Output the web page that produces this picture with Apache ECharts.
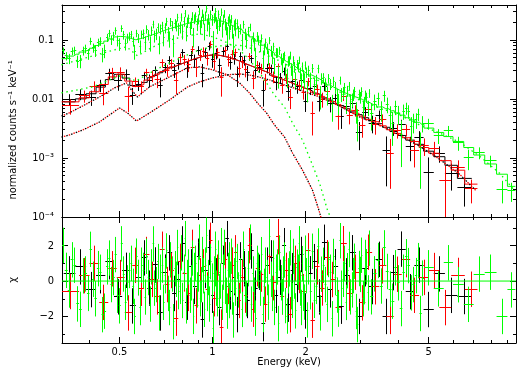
<!DOCTYPE html>
<html>
<head>
<meta charset="utf-8">
<script src="https://cdn.jsdelivr.net/npm/echarts@6.0.0/dist/echarts.min.js"></script>
<style>
html,body{margin:0;padding:0;background:#ffffff;}
#chart{width:525px;height:372px;}
</style>
</head>
<body>
<div id="chart"></div>
<script>
// ================= DATA =================
const xMajorTicks = [0.5, 1, 2, 5];
const xMinorTicks = [0.4, 0.6, 0.7, 0.8, 0.9, 3, 4, 6, 7, 8, 9];
const yMajorTicks = [1e-4, 1e-3, 0.01, 0.1];
const yMajorLabels = ['10⁻⁴', '10⁻³', '0.01', '0.1'];
const yMinorTicks = [2e-4,3e-4,4e-4,5e-4,6e-4,7e-4,8e-4,9e-4,2e-3,3e-3,4e-3,5e-3,6e-3,7e-3,8e-3,9e-3,0.02,0.03,0.04,0.05,0.06,0.07,0.08,0.09,0.2,0.3];
const rMajorTicks = [-2, 0, 2];
const rMinorTicks = [-3, -1, 1, 3];

// black dataset: bin edges (keV), model, data, 1-sigma error (normalized counts s^-1 keV^-1)
const blackEdges = [0.33,0.36,0.39,0.42,0.45,0.48,0.51,0.54,0.565,0.59,0.615,0.64,0.665,0.69,0.715,0.74,0.765,0.79,0.815,0.84,0.865,0.89,0.915,0.94,0.965,0.99,1.015,1.04,1.07,1.10,1.13,1.16,1.19,1.22,1.25,1.28,1.32,1.36,1.40,1.44,1.48,1.53,1.58,1.63,1.68,1.73,1.79,1.85,1.91,1.97,2.04,2.11,2.18,2.26,2.35,2.45,2.55,2.66,2.78,2.91,3.05,3.20,3.37,3.55,3.75,3.97,4.22,4.50,4.82,5.20,5.65,6.20,6.90];
const blackModel = [.0089,.0100,.0122,.0158,.0212,.0260,.0225,.0168,.0165,.0190,.0228,.0250,.0277,.0305,.0336,.0362,.0388,.0412,.0440,.0465,.0487,.0510,.0528,.0540,.0550,.0556,.0550,.0538,.0520,.0505,.0482,.0460,.0440,.0415,.0392,.0370,.0348,.0328,.0310,.0292,.0275,.0252,.0232,.0216,.0203,.0190,.0176,.0166,.0155,.0146,.0136,.0125,.0116,.0104,.0095,.0084,.0077,.0068,.0060,.0054,.0048,.0043,.0038,.0033,.0028,.0024,.0020,.0017,.0013,.00105,.00075,.00045];
const blackData = [.0098,.0120,.0107,.0170,.0270,.0202,.0259,.0116,.0172,.0245,.0208,.0300,.0167,.0339,.0454,.0306,.0397,.0603,.0324,.0547,.0455,.0667,.0273,.0611,.0780,.0458,.0586,.0361,.0634,.0771,.0418,.0480,.0256,.0524,.0452,.0281,.0479,.0299,.0344,.0138,.0330,.0324,.0191,.0226,.0293,.0135,.0199,.0159,.0206,.0092,.0150,.0159,.0090,.0161,.0083,.0101,.0050,.0073,.0084,.0027,.0058,.0039,.0052,.00132,.0032,.0037,.00158,.00224,.00056,.0012,.00054,.00031];
const blackErr = [.0022,.0025,.0031,.0040,.0053,.0065,.0056,.0037,.0036,.0042,.0050,.0055,.0061,.0067,.0074,.0080,.0085,.0091,.0097,.0102,.0107,.0112,.0116,.0119,.0121,.0122,.0121,.0118,.0114,.0111,.0106,.0101,.0097,.0091,.0086,.0081,.0077,.0072,.0068,.0064,.0061,.0055,.0051,.0048,.0045,.0042,.0039,.0037,.0034,.0032,.0034,.0031,.0029,.0026,.0024,.0021,.0019,.0017,.0015,.00135,.00144,.00129,.00114,.00099,.00084,.00072,.0007,.0006,.00046,.00037,.00026,.00016];

// red dataset
const redEdges = [0.325,0.37,0.40,0.43,0.46,0.49,0.52,0.55,0.575,0.60,0.625,0.65,0.675,0.70,0.725,0.75,0.775,0.80,0.825,0.85,0.875,0.90,0.925,0.95,0.975,1.00,1.025,1.055,1.085,1.115,1.145,1.175,1.205,1.235,1.265,1.30,1.34,1.38,1.42,1.46,1.505,1.555,1.605,1.655,1.705,1.76,1.82,1.88,1.94,2.005,2.075,2.145,2.22,2.305,2.40,2.50,2.605,2.72,2.845,2.98,3.125,3.285,3.46,3.65,3.86,4.095,4.36,4.66,5.01,5.42,5.92,6.55,7.2];
const redModel = [.0089,.0104,.0132,.0175,.0235,.0262,.0200,.0162,.0175,.0208,.0238,.0262,.0290,.0320,.0348,.0374,.0398,.0425,.0452,.0476,.0498,.0518,.0534,.0546,.0554,.0554,.0545,.0530,.0512,.0494,.0471,.0450,.0428,.0404,.0382,.0358,.0338,.0319,.0300,.0284,.0263,.0242,.0224,.0209,.0196,.0183,.0171,.0160,.0150,.0141,.0130,.0120,.0110,.0100,.0090,.0080,.0072,.0064,.0057,.0051,.0045,.0041,.0035,.0030,.0026,.0022,.0019,.0015,.0012,.0009,.00062,.00036];
const redData = [.0076,.0112,.0165,.0122,.0276,.0275,.0110,.0194,.0159,.0277,.0243,.0210,.0405,.0306,.0394,.0202,.0495,.0463,.0383,.0676,.0344,.0552,.0628,.0486,.0835,.0432,.0605,.0226,.0648,.0461,.0565,.0608,.0325,.0422,.0315,.0516,.0220,.0368,.0326,.0203,.0344,.0237,.0347,.0168,.0222,.0107,.0209,.0171,.0130,.0194,.0057,.0144,.0099,.0133,.0092,.0050,.0110,.0053,.0064,.0035,.0067,.0037,.0044,.0012,.0029,.0030,.00136,.00161,.00145,.00042,.00069,.00030];
const redErr = [.0022,.0026,.0033,.0044,.0059,.0066,.0050,.0036,.0039,.0046,.0052,.0058,.0064,.0070,.0077,.0082,.0088,.0094,.0099,.0105,.0110,.0114,.0117,.0120,.0122,.0122,.0120,.0117,.0113,.0109,.0104,.0099,.0094,.0089,.0084,.0079,.0074,.0070,.0066,.0062,.0058,.0053,.0049,.0046,.0043,.0040,.0038,.0035,.0033,.0031,.0033,.0030,.0028,.0025,.0023,.0020,.0018,.0016,.0014,.0013,.00135,.00123,.00105,.0009,.00078,.00066,.00067,.00053,.00042,.00032,.00022,.00013];

// green dataset
const greenEdges = [0.325,0.3325,0.34,0.3475,0.355,0.3625,0.37,0.3775,0.385,0.3925,0.40,0.4075,0.415,0.4225,0.43,0.4375,0.445,0.4525,0.46,0.4675,0.475,0.4825,0.49,0.4975,0.505,0.5125,0.52,0.5275,0.535,0.5425,0.55,0.5575,0.565,0.5725,0.58,0.5875,0.595,
 0.6025,0.61,0.6175,0.625,0.6325,0.64,0.6475,0.655,0.6625,0.67,0.6775,0.685,0.6925,0.70,0.7075,0.715,0.7225,0.73,0.7375,0.745,0.7525,0.76,0.7675,0.775,0.7825,0.79,0.7975,0.805,0.8125,0.82,0.8275,0.835,0.8425,0.85,0.8575,0.865,0.8725,0.88,0.8875,0.895,0.9025,0.91,0.9175,0.925,0.9325,0.94,0.9475,0.955,0.9625,0.97,0.9775,0.985,0.9925,1.00,1.0075,1.015,1.0225,1.03,1.0375,1.045,1.0525,1.06,1.0675,1.075,1.0825,1.09,1.0975,1.105,1.1125,1.12,1.1275,1.135,1.1425,1.15,1.1575,1.165,1.1725,1.18,1.1875,1.195,
 1.21,1.225,1.24,1.255,1.27,1.285,1.30,1.315,1.33,1.345,1.36,1.375,1.39,1.405,1.42,1.435,1.45,1.465,1.48,1.495,1.51,1.525,1.54,1.555,1.57,1.585,1.60,1.615,1.63,1.645,1.66,1.675,1.69,1.705,1.72,1.735,1.75,1.765,1.78,1.795,1.81,1.825,1.84,1.855,1.87,1.885,1.90,1.915,1.93,1.945,1.96,1.975,1.99,2.005,2.02,2.035,
 2.065,2.095,2.125,2.155,2.185,2.215,2.245,2.275,2.305,2.335,2.365,2.395,2.425,2.455,2.485,2.515,2.545,2.575,2.605,2.635,2.665,2.695,2.725,2.755,2.785,2.815,2.845,2.875,2.905,2.935,2.965,2.995,3.025,3.055,3.085,3.115,3.145,3.175,3.205,3.235,
 3.315,3.395,3.475,3.555,3.635,3.715,3.795,3.875,3.955,4.035,4.115,4.195,4.275,4.355,4.435,4.515,4.595,4.675,4.755,4.835,
 5.2,5.6,6.0,6.5,7.0,7.6,8.3,9.0,9.55];
const greenModel = [.048,.048,.053,.053,.057,.057,.062,.062,.066,.066,.072,.072,.080,.080,.087,.087,.095,.095,.104,.104,.112,.112,.114,.114,.113,.113,.109,.109,.104,.104,.100,.100,.103,.103,.107,.107,
 .112,.112,.117,.117,.122,.122,.127,.127,.132,.132,.138,.138,.144,.144,.150,.150,.155,.155,.160,.160,.165,.165,.171,.171,.176,.176,.181,.181,.186,.186,.190,.190,.194,.194,.198,.198,.201,.201,.205,.205,.208,.208,.211,.211,.213,.213,.215,.215,.216,.216,.217,.217,.218,.218,.218,.218,.217,.217,.215,.215,.212,.212,.208,.208,.203,.203,.198,.198,.192,.192,.186,.186,.180,.180,.174,.174,.168,.168,.162,.162,
 .154,.154,.144,.144,.132,.132,.122,.122,.112,.112,.103,.103,.095,.095,.088,.088,.081,.081,.075,.075,.069,.069,.064,.064,.060,.060,.055,.055,.052,.052,.049,.049,.046,.046,.043,.043,.041,.041,.039,.039,.037,.037,.035,.035,.033,.033,.0315,.0315,.030,.030,.029,.029,.0278,.0278,.0266,.0266,
 .0254,.0254,.0236,.0236,.0219,.0219,.0203,.0203,.0187,.0187,.0172,.0172,.0160,.0160,.0150,.0150,.0141,.0141,.0133,.0133,.0126,.0126,.0120,.0120,.0115,.0115,.0110,.0110,.0106,.0106,.0102,.0102,.0098,.0098,.0093,.0093,.0089,.0089,.0086,.0086,
 .0080,.0080,.0073,.0073,.0068,.0068,.0063,.0063,.0058,.0058,.0053,.0053,.0048,.0048,.0044,.0044,.0040,.0040,.0037,.0037,
 .0032,.0027,.0023,.0019,.0015,.00112,.00079,.00053,.00033];
const greenData = [.0653,.0532,.0482,.0644,.0662,.0437,.0441,.0653,.0708,.0577,.0953,.0733,.0656,.0901,.0948,.0572,.0659,.1087,.1283,.1003,.1160,.1422,.0976,.0853,.1557,.1211,.0855,.1070,.1152,.1227,.0946,.0640,.1290,.1067,.0781,.1243,
 .1261,.0908,.1514,.1219,.0887,.1425,.1830,.1163,.1265,.1625,.0858,.1525,.1712,.1077,.1595,.2036,.1322,.1062,.2003,.1734,.0853,.1893,.1746,.2392,.1538,.1649,.2418,.1392,.2055,.2797,.1341,.1980,.2266,.1614,.1938,.2521,.1166,.2263,.2481,.1835,.2255,.3041,.1667,.2021,.2801,.2264,.1428,.2556,.3339,.1842,.2261,.1578,.2684,.2180,.0944,.2363,.2489,.2990,.1969,.1699,.2699,.1853,.2080,.2954,.1518,.2243,.2770,.1855,.1597,.1235,.2094,.2329,.1384,.1838,.2252,.1411,.0904,.1786,.1926,.1484,
 .1896,.1378,.1531,.0956,.1819,.1265,.0964,.1399,.1637,.0814,.1117,.0857,.0531,.1150,.0991,.0806,.1065,.0487,.0703,.0892,.0719,.0516,.0976,.0653,.0512,.0764,.0377,.0608,.0607,.0258,.0655,.0480,.0373,.0499,.0538,.0304,.0238,.0436,.0447,.0546,.0323,.0285,.0453,.0350,.0212,.0385,.0348,.0454,.0275,.0206,.0351,.0247,.0208,.0371,.0283,.0143,
 .0303,.0217,.0332,.0174,.0203,.0324,.0115,.0222,.0227,.0178,.0118,.0222,.0179,.0079,.0200,.0157,.0114,.0087,.0206,.0120,.0129,.0156,.0085,.0137,.0165,.0090,.0097,.0118,.0134,.0063,.0043,.0119,.0107,.0133,.0071,.0086,.0117,.0106,.0072,.0125,
 .0056,.0091,.0102,.0066,.0113,.0081,.0053,.0038,.0073,.0056,.0025,.0062,.0070,.0062,.0034,.0041,.0044,.0055,.0015,.0039,
 .0038,.0024,.0029,.0018,.0010,.00123,.00089,.00029,.00028];
const greenErr = [.0086,.0086,.0095,.0095,.0103,.0103,.0112,.0112,.0119,.0119,.0130,.0130,.0144,.0144,.0157,.0157,.0171,.0171,.0187,.0187,.0202,.0202,.0205,.0205,.0203,.0203,.0196,.0196,.0187,.0187,.0180,.0180,.0185,.0185,.0193,.0193,
 .0235,.0235,.0246,.0246,.0256,.0256,.0267,.0267,.0277,.0277,.0290,.0290,.0302,.0302,.0315,.0315,.0326,.0326,.0336,.0336,.0347,.0347,.0360,.0360,.0370,.0370,.0381,.0381,.0391,.0391,.0399,.0399,.0407,.0407,.0416,.0416,.0423,.0423,.0431,.0431,.0437,.0437,.0444,.0444,.0448,.0448,.0452,.0452,.0454,.0454,.0456,.0456,.0458,.0458,.0458,.0458,.0456,.0456,.0452,.0452,.0445,.0445,.0437,.0437,.0427,.0427,.0416,.0416,.0403,.0403,.0391,.0391,.0378,.0378,.0365,.0365,.0353,.0353,.0340,.0340,
 .0323,.0323,.0302,.0302,.0277,.0277,.0256,.0256,.0235,.0235,.0217,.0217,.0200,.0200,.0185,.0185,.0171,.0171,.0158,.0158,.0146,.0146,.0134,.0134,.0126,.0126,.0116,.0116,.0109,.0109,.0104,.0104,.0097,.0097,.0091,.0091,.0087,.0087,.0083,.0083,.0078,.0078,.0074,.0074,.0070,.0070,.0066,.0066,.0063,.0063,.0062,.0062,.0059,.0059,.0056,.0056,
 .0061,.0061,.0057,.0057,.0053,.0053,.0049,.0049,.0045,.0045,.0041,.0041,.0038,.0038,.0036,.0036,.0034,.0034,.0032,.0032,.0030,.0030,.0029,.0029,.0028,.0028,.0026,.0026,.0025,.0025,.0024,.0024,.0024,.0024,.0022,.0022,.0021,.0021,.0021,.0021,
 .0027,.0027,.0025,.0025,.0024,.0024,.0022,.0022,.0020,.0020,.0018,.0018,.0016,.0016,.0015,.0015,.0013,.0013,.0012,.0012,
 .0008,.00068,.00058,.00048,.00038,.00028,.0002,.00012,.0001];

// additive model components (dotted curves): energy (keV) and value
const mosSoftE = [0.3245,0.3437,0.3853,0.4308,0.4818,0.5269,0.5469,0.572,0.6025,0.6253,0.6738,0.7258,0.8301,0.9077,1.0,1.1183,1.2227,1.3175,1.3981,1.4954,1.5874,1.71,1.8151,1.9556,2.107,2.2201,2.26];
const mosSoftV = [.00513,.00577,.00788,.01076,.01531,.01862,.01416,.01076,.01362,.01592,.01936,.02355,.0335,.03483,.03097,.02547,.01862,.01259,.00851,.00577,.00361,.00226,.00121,.00062,.000284,.00012,.000085];
const mosHardE = [0.3245,0.3437,0.3796,0.4308,0.5,0.5309,0.5676,0.6253,0.7258,0.8301,0.9077,1.0,1.1099,1.2227,1.3676,1.5293,1.71,1.9124,2.2201,2.5763,2.9908,3.4716,4.0297,4.6774,5.4292,6.302,7.1];
const mosHardV = [.00226,.00244,.00296,.00406,.00701,.00577,.00422,.00577,.00957,.01592,.01936,.02263,.02547,.02649,.02449,.02094,.01722,.01416,.01076,.00757,.00493,.00361,.00244,.00158,.00095,.00053,.000284];
const greenSoftE = [0.3245,0.3999,0.4818,0.5269,0.572,0.6253,0.6738,0.7535,0.8301,0.9077,1.0,1.1183,1.2227,1.3175,1.3981,1.4954,1.5874,1.71,1.8151,1.9556,2.107,2.2201,2.3556,2.4093];
const greenSoftV = [.0377,.0514,.0676,.0760,.0535,.0703,.0855,.1040,.1169,.1264,.1124,.0889,.0676,.0457,.0310,.0186,.0116,.00728,.0039,.0020,.000755,.000374,.00013,.0000988];
const greenHardE = [0.3245,0.4089,0.4642,0.5,0.5388,0.5676,0.6025,0.6738,0.7258,0.8301,0.9077,1.0,1.1352,1.2693,1.4191,1.6473,1.9124,2.2201,2.5763,2.9908,3.4716,4.0297,4.6774,5.4292,6.302,7.313,8.4883,9.4214];
const greenHardV = [.0126,.0159,.0209,.0245,.0218,.0201,.0245,.0335,.0407,.0556,.0676,.0760,.0822,.0791,.0625,.0440,.0287,.0201,.0131,.00957,.00700,.00533,.00361,.00264,.00185,.00107,.000552,.000295];

// ================= CHART =================
const L = Math.log10;
const XMIN = -0.487, XMAX = 0.982;      // log10(keV)
const YMIN = -4, YMAX = -0.411;          // log10(counts)
const RMIN = -3.5, RMAX = 3.62;          // chi
const BLACK = '#000000', RED = '#ff0000', GREEN = '#00ff00';
const FONT = "'Liberation Sans Narrow','DejaVu Sans Condensed','Liberation Sans',sans-serif";

function crosses(edges, vals, errs) {
  return vals.map((v, i) => {
    const lo = edges[i], hi = edges[i + 1], c = (lo + hi) / 2, e = errs[i];
    return [L(lo), L(hi), L(c), L(v), v - e > 0 ? L(v - e) : YMIN - 1, L(v + e)];
  });
}
function resid(edges, vals, errs, model) {
  return vals.map((v, i) => {
    const lo = edges[i], hi = edges[i + 1], c = (lo + hi) / 2;
    const chi = (v - model[i]) / errs[i];
    return [L(lo), L(hi), L(c), chi, chi - 1, chi + 1];
  });
}
function steps(edges, model) {
  const pts = [];
  model.forEach((m, i) => { pts.push([L(edges[i]), L(m)], [L(edges[i + 1]), L(m)]); });
  return pts;
}
function curve(E, V) { return E.map((e, i) => [L(e), L(V[i])]); }

function crossRender(color) {
  return function (params, api) {
    const a = api.coord([api.value(0), api.value(3)]);
    const b = api.coord([api.value(1), api.value(3)]);
    const p = api.coord([api.value(2), api.value(4)]);
    const q = api.coord([api.value(2), api.value(5)]);
    const y = Math.round(a[1] - 0.5) + 0.5;
    const x = Math.round(p[0] - 0.5) + 0.5;
    const st = { stroke: color, lineWidth: 1 };
    return { type: 'group', children: [
      { type: 'line', shape: { x1: a[0], y1: y, x2: b[0], y2: y }, style: st },
      { type: 'line', shape: { x1: x, y1: p[1], x2: x, y2: q[1] }, style: st }
    ]};
  };
}

function axis(grid, pos, min, max, ticks, len, line, label) {
  const a = {
    type: 'value', gridIndex: grid, position: pos, min: min, max: max,
    axisLine: { show: line, onZero: false, lineStyle: { color: BLACK, width: 1 } },
    axisTick: { show: true, inside: true, length: len, customValues: ticks, lineStyle: { color: BLACK, width: 1 } },
    axisLabel: { show: false },
    splitLine: { show: false },
    axisPointer: { show: false }
  };
  if (label) a.axisLabel = Object.assign({ show: true, color: BLACK, fontFamily: FONT, fontSize: 11, customValues: ticks }, label);
  return a;
}

const xMaj = xMajorTicks.map(L), xMin = xMinorTicks.map(L);
const yMaj = yMajorTicks.map(L), yMin = yMinorTicks.map(L);

const xAxes = [
  axis(0, 'bottom', XMIN, XMAX, xMaj, 6, true),
  axis(0, 'bottom', XMIN, XMAX, xMin, 3, false),
  axis(0, 'top', XMIN, XMAX, xMaj, 6, true),
  axis(0, 'top', XMIN, XMAX, xMin, 3, false),
  axis(1, 'bottom', XMIN, XMAX, xMaj, 6, true, {
    margin: 4,
    formatter: v => String(Number(Math.pow(10, v).toPrecision(2)))
  }),
  axis(1, 'bottom', XMIN, XMAX, xMin, 3, false),
  axis(1, 'top', XMIN, XMAX, xMaj, 6, true),
  axis(1, 'top', XMIN, XMAX, xMin, 3, false)
];
const yAxes = [
  axis(0, 'left', YMIN, YMAX, yMaj, 6, true, {
    margin: 8,
    formatter: v => yMajorLabels[yMaj.findIndex(t => Math.abs(t - v) < 1e-6)]
  }),
  axis(0, 'left', YMIN, YMAX, yMin, 3, false),
  axis(0, 'right', YMIN, YMAX, yMaj, 6, true),
  axis(0, 'right', YMIN, YMAX, yMin, 3, false),
  axis(1, 'left', RMIN, RMAX, rMajorTicks, 6, true, {
    margin: 8,
    formatter: v => (v < 0 ? '−' + Math.abs(Math.round(v)) : String(Math.round(v)))
  }),
  axis(1, 'left', RMIN, RMAX, rMinorTicks, 3, false),
  axis(1, 'right', RMIN, RMAX, rMajorTicks, 6, true),
  axis(1, 'right', RMIN, RMAX, rMinorTicks, 3, false)
];

const series = [];
function addSet(color, edges, model, data, err, z) {
  series.push({ type: 'custom', xAxisIndex: 0, yAxisIndex: 0, clip: true, z: z, silent: true,
    renderItem: crossRender(color), data: crosses(edges, data, err) });
  series.push({ type: 'line', xAxisIndex: 0, yAxisIndex: 0, clip: true, z: z + 1, silent: true,
    data: steps(edges, model), showSymbol: false, symbol: 'none', lineStyle: { color: color, width: 1 } });
  series.push({ type: 'custom', xAxisIndex: 4, yAxisIndex: 4, clip: true, z: z, silent: true,
    renderItem: crossRender(color), data: resid(edges, data, err, model) });
}
addSet(BLACK, blackEdges, blackModel, blackData, blackErr, 2);
addSet(RED, redEdges, redModel, redData, redErr, 4);
addSet(GREEN, greenEdges, greenModel, greenData, greenErr, 6);

function addComp(E, V, color, offset) {
  series.push({ type: 'line', xAxisIndex: 0, yAxisIndex: 0, clip: true, z: 9, silent: true,
    data: curve(E, V), showSymbol: false, symbol: 'none',
    lineStyle: { color: color, width: 1.3, type: [1.5, 3.5], dashOffset: offset } });
}
addComp(mosSoftE, mosSoftV, BLACK, 0);
addComp(mosSoftE, mosSoftV, RED, 2.5);
addComp(mosHardE, mosHardV, BLACK, 0);
addComp(mosHardE, mosHardV, RED, 2.5);
addComp(greenSoftE, greenSoftV, GREEN, 0);
addComp(greenHardE, greenHardV, GREEN, 0);

// zero line of the residual panel (spans the axis range at chi = 0)
series.push({ type: 'line', xAxisIndex: 4, yAxisIndex: 4, z: 10, silent: true, clip: true,
  data: [[XMIN, 0], [XMAX, 0]], showSymbol: false, symbol: 'none',
  lineStyle: { color: GREEN, width: 1 } });

const txt = (t, x, y, rot) => ({ type: 'text', x: x, y: y, rotation: rot || 0, silent: true,
  style: { text: t, font: '11px ' + FONT, fill: BLACK, align: 'center', verticalAlign: 'middle',
           textAlign: 'center', textVerticalAlign: 'middle' } });

const chart = echarts.init(document.getElementById('chart'), null, { renderer: 'canvas' });
chart.setOption({
  animation: false,
  backgroundColor: '#ffffff',
  grid: [
    { left: 62, top: 5, width: 454, height: 212 },
    { left: 62, top: 217, width: 454, height: 126 }
  ],
  xAxis: xAxes,
  yAxis: yAxes,
  series: series,
  graphic: [
    txt('normalized counts s⁻¹ keV⁻¹', 13, 130, Math.PI / 2),
    txt('χ', 13, 280, Math.PI / 2),
    txt('Energy (keV)', 289, 362)
  ]
});
</script>
</body>
</html>
